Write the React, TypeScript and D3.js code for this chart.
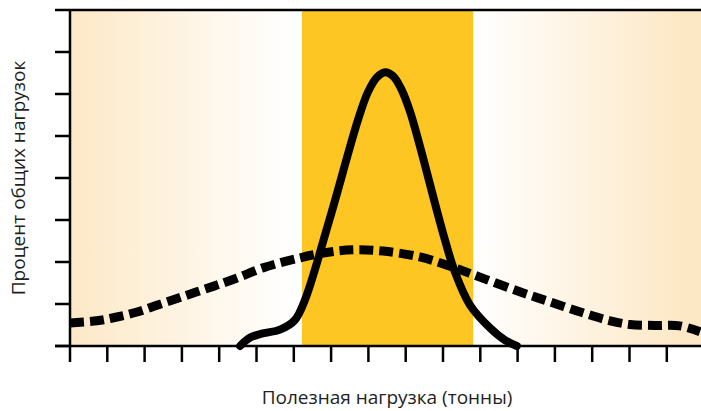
import * as d3 from 'd3'

// x in tick units (1 unit per x tick), y in tick units (8 y ticks)
const loadedX = [4.56, 4.83, 5.17, 5.63, 6.03, 6.30, 6.97, 7.72, 7.99, 8.23, 8.45, 8.66, 8.87, 9.12, 10.0, 10.32, 10.72, 11.26, 11.66, 11.98]
const loadedY = [0.0, 0.2, 0.3, 0.39, 0.62, 1.1, 3.05, 5.38, 6.05, 6.4, 6.52, 6.43, 6.14, 5.57, 2.69, 1.76, 0.98, 0.43, 0.14, 0.0]

const allX = [0, 0.72, 1.26, 1.8, 2.33, 2.87, 3.4, 3.94, 4.48, 5.17, 6.17, 6.97, 7.64, 8.39, 9.38, 10.19, 10.99, 12.06, 12.87, 13.75, 14.48, 15.01, 15.68, 16.35, 16.89]
const allY = [0.55, 0.6, 0.69, 0.81, 0.97, 1.13, 1.29, 1.45, 1.62, 1.86, 2.1, 2.24, 2.29, 2.26, 2.12, 1.9, 1.64, 1.29, 1.05, 0.79, 0.6, 0.51, 0.49, 0.48, 0.34]

const xTicks = d3.range(0, 18)
const yTicks = d3.range(0, 9)
const band = [6.22, 10.81]

const xLabel = 'Полезная нагрузка (тонны)'
const yLabel = 'Процент общих нагрузок'

const ORANGE = '#fde8c6'
const YELLOW = '#fdc623'

export default function App() {
  const width = 701
  const height = 411
  const left = 70
  const top = 10
  const bottom = 346
  const right = left + 17 * 37.3

  const x = d3.scaleLinear().domain([0, 17]).range([left, right])
  const y = d3.scaleLinear().domain([0, 8]).range([bottom, top])

  const line = d3.line<[number, number]>()
    .x(d => x(d[0]))
    .y(d => y(d[1]))
    .curve(d3.curveCatmullRom.alpha(0.5))

  const loaded = line(loadedX.map((v, i) => [v, loadedY[i]])) ?? undefined
  const all = line(allX.map((v, i) => [v, allY[i]])) ?? undefined

  const font = '"Open Sans", "Noto Sans", sans-serif'

  return (
    <svg width={width} height={height} style={{position: 'absolute', left: 0, top: 0}}>
      <defs>
        <linearGradient id="gl" x1="0" x2="1" y1="0" y2="0">
          <stop offset="0" stopColor={ORANGE} />
          <stop offset="0.95" stopColor="#ffffff" />
        </linearGradient>
        <linearGradient id="gr" x1="0" x2="1" y1="0" y2="0">
          <stop offset="0" stopColor="#ffffff" />
          <stop offset="0.9" stopColor={ORANGE} />
        </linearGradient>
      </defs>
      <rect x={left} y={top} width={x(band[0]) - left} height={bottom - top} fill="url(#gl)" />
      <rect x={x(band[1])} y={top} width={right - x(band[1])} height={bottom - top} fill="url(#gr)" />
      <rect x={x(band[0])} y={top} width={x(band[1]) - x(band[0])} height={bottom - top} fill={YELLOW} />

      <path d={all} fill="none" stroke="#000" strokeWidth={9} strokeDasharray="14 6" />
      <path d={loaded} fill="none" stroke="#000" strokeWidth={8} strokeLinecap="round" strokeLinejoin="round" />

      <g stroke="#000" strokeWidth={2.5}>
        <line x1={left} x2={left} y1={top} y2={bottom} />
        <line x1={left - 15} x2={width} y1={bottom} y2={bottom} />
        <line x1={left} x2={width} y1={top} y2={top} />
        {yTicks.map(t => (
          <line key={'y' + t} x1={left - 15} x2={left} y1={y(t)} y2={y(t)} />
        ))}
        {xTicks.map(t => (
          <line key={'x' + t} x1={x(t)} x2={x(t)} y1={bottom} y2={bottom + 16} />
        ))}
      </g>

      <text x={387} y={404} textAnchor="middle" fontFamily={font} fontSize={19} fill="#231f20">{xLabel}</text>
      <text transform={`translate(25, 178) rotate(-90)`} textAnchor="middle" fontFamily={font} fontSize={19} fill="#231f20">{yLabel}</text>
    </svg>
  )
}
